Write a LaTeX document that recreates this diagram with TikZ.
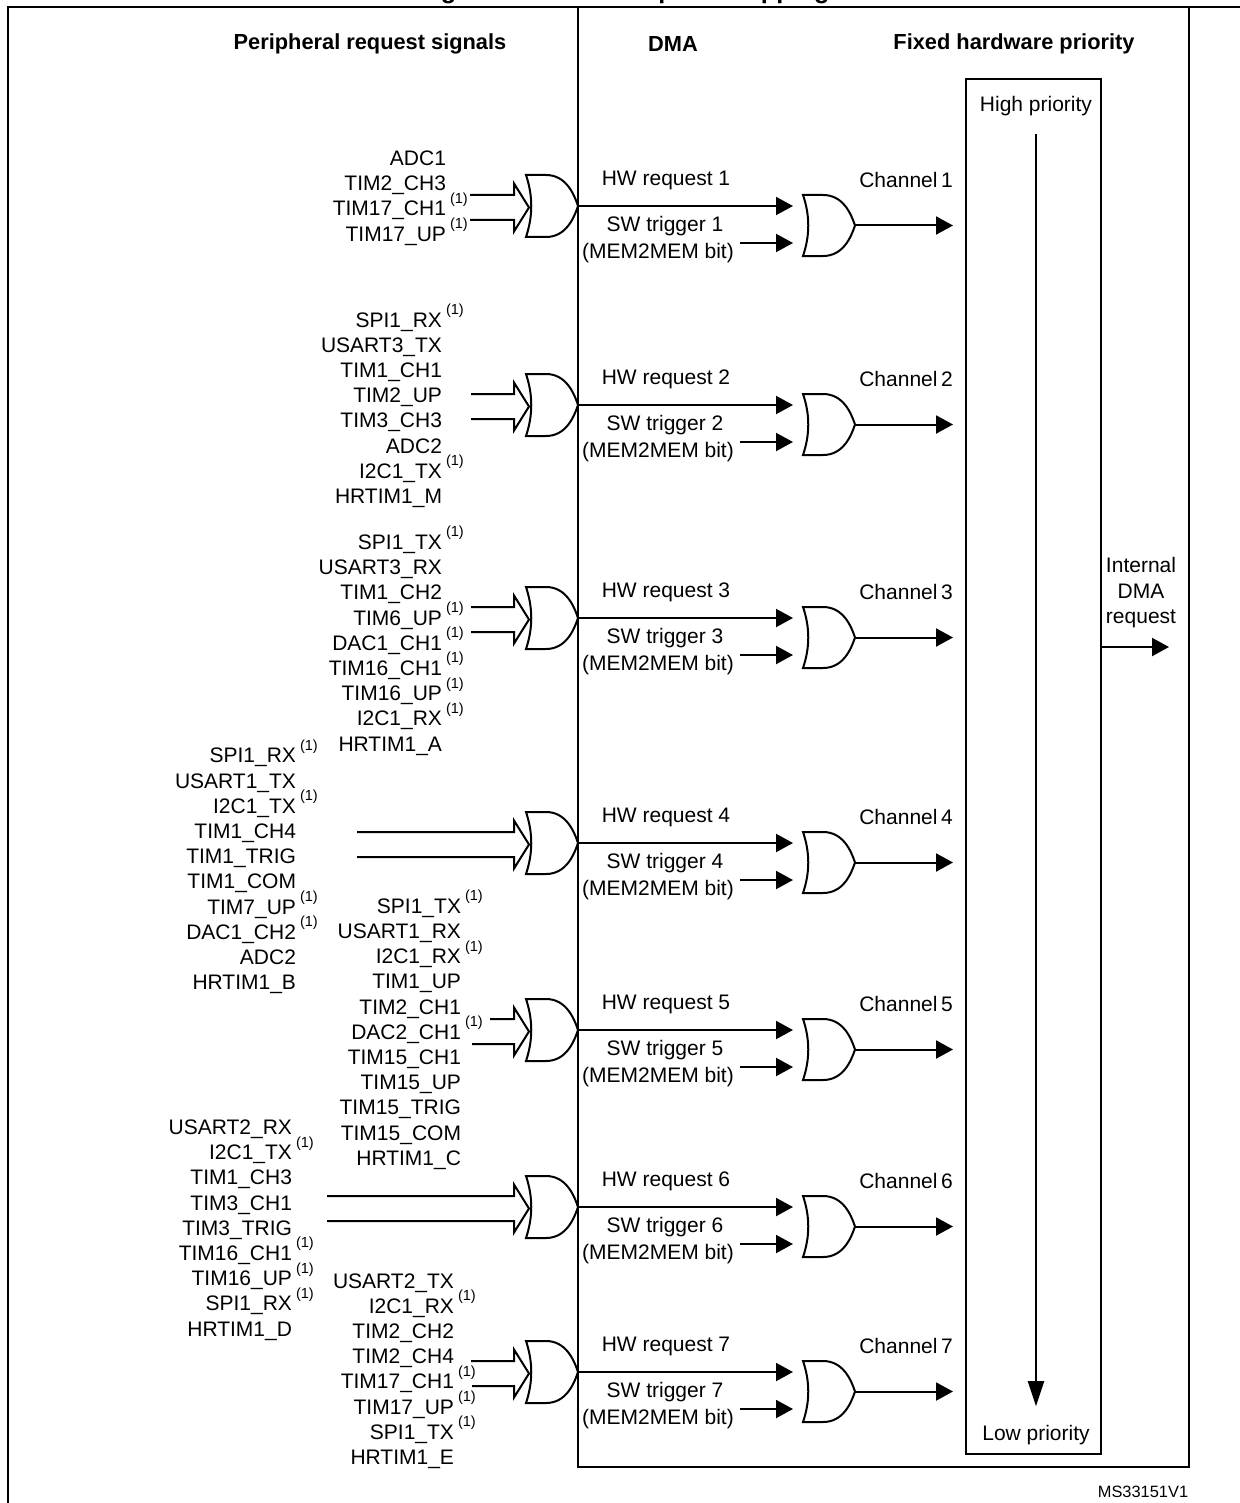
\documentclass[tikz,border=0pt]{standalone}
\usepackage{fontspec}
\setmainfont{Liberation Sans}
\usetikzlibrary{arrows.meta, positioning, calc}

\newcommand\fnone{\rlap{\hspace{2pt}\smash{\raisebox{6.3pt}{\fontsize{7.3}{8}\selectfont(1)}}}}

\begin{document}
\begin{tikzpicture}[x=0.5pt, y=-0.5pt, line width=1pt,
    every node/.style={font=\fontsize{10.5}{12.6}\selectfont, inner sep=0pt},
    sig/.style={anchor=east, align=right},
    head/.style={font=\bfseries\fontsize{10.9}{13}\selectfont},
    req/.style={-{Triangle[length=8.5pt,width=9pt]}},
    prio/.style={-{Triangle[length=12.5pt,width=8pt]}}]

            \useasboundingbox (0,0) rectangle (1240,1503);

            \begin{scope}
                \clip (0,0) rectangle (1240,1503);
                \node[font=\bfseries\fontsize{12.65}{15}\selectfont, anchor=base] (title) at (624,-1.5) {Figure 24. DMA1 request mapping};
            \end{scope}

            \draw[line width=1.4pt] (8,1503) -- (8,7) -- (1240,7);
            \draw (578,7) rectangle (1189,1467);
            \draw (966,79) rectangle (1101,1454);

            \node[head] (hpr) at (370,44) {Peripheral request signals};
            \node[head] (hdma) at (673,44) {DMA};
            \node[head] (hfix) at (1014,44) {Fixed hardware priority};

            \node (hip) at (1036,106) {High priority};
            \node (lop) at (1036,1435) {Low priority};
            \draw[prio, shorten <=8.5pt, shorten >=9pt] (hip.south) -- (lop.north);

            \node[align=center, font=\fontsize{10.5}{12.75}\selectfont] (idr) at (1141,593) {Internal\\DMA\\request};
            \coordinate (idrs) at (1101,647);
            \coordinate (idre) at (1169,647);
            \draw[req] (idrs) -- (idre);

            \node[font=\fontsize{8.2}{10}\selectfont] (ms) at (1143,1492) {MS33151V1};

            %%%%%%%%%%%%%%%%%%%%%%%%%%%%%%%%%%%%%%%%%%%%%%%%%%%%%%%%%%%%%
            \node[sig] (sig1) at (447,198) {ADC1\\TIM2\_CH3\\TIM17\_CH1\fnone\\TIM17\_UP\fnone};
            \node[sig] (sig2) at (443,410) {SPI1\_RX\fnone\\USART3\_TX\\TIM1\_CH1\\TIM2\_UP\\TIM3\_CH3\\ADC2\\I2C1\_TX\fnone\\HRTIM1\_M};
            \node[sig] (sig3) at (443,645) {SPI1\_TX\fnone\\USART3\_RX\\TIM1\_CH2\\TIM6\_UP\fnone\\DAC1\_CH1\fnone\\TIM16\_CH1\fnone\\TIM16\_UP\fnone\\I2C1\_RX\fnone\\HRTIM1\_A};
            \node[sig] (sig4) at (297,871) {SPI1\_RX\fnone\\USART1\_TX\\I2C1\_TX\fnone\\TIM1\_CH4\\TIM1\_TRIG\\TIM1\_COM\\TIM7\_UP\fnone\\DAC1\_CH2\fnone\\ADC2\\HRTIM1\_B};
            \node[sig] (sig5) at (462,1034) {SPI1\_TX\fnone\\USART1\_RX\\I2C1\_RX\fnone\\TIM1\_UP\\TIM2\_CH1\\DAC2\_CH1\fnone\\TIM15\_CH1\\TIM15\_UP\\TIM15\_TRIG\\TIM15\_COM\\HRTIM1\_C};
            \node[sig] (sig6) at (293,1230) {USART2\_RX\\I2C1\_TX\fnone\\TIM1\_CH3\\TIM3\_CH1\\TIM3\_TRIG\\TIM16\_CH1\fnone\\TIM16\_UP\fnone\\SPI1\_RX\fnone\\HRTIM1\_D};
            \node[sig] (sig7) at (455,1371) {USART2\_TX\\I2C1\_RX\fnone\\TIM2\_CH2\\TIM2\_CH4\\TIM17\_CH1\fnone\\TIM17\_UP\fnone\\SPI1\_TX\fnone\\HRTIM1\_E};

            %%%%%%%%%%%%%%%%%%%%%%%%%%%%%%%%%%%%%%%%%%%%%%%%%%%%%%%%%%%%%
            \foreach \c/\xa/\xb [count=\i] in {206/470/470, 405/471/471, 618/471/471, 843/357/357, 1030/490/472, 1207/327/327, 1372/471/472}
            {
                % request bus and first gate
                \draw (\xa,\c-11) -- (514,\c-11) -- (514,\c-22.5) -- (529,\c+1.5) -- (514,\c+25.5) -- (514,\c+14) -- (\xb,\c+14);
                \draw (526,\c-31) -- (546,\c-31) .. controls (566,\c-31) and (574,\c-12) .. (578,\c)
                      .. controls (574,\c+12) and (566,\c+31) .. (546,\c+31) -- (526,\c+31)
                      .. controls (533,\c+10) and (533,\c-10) .. (526,\c-31) -- cycle;

                % second gate
                \draw (803,\c-11) -- (823,\c-11) .. controls (843,\c-11) and (851,\c+7.5) .. (855,\c+19.5)
                      .. controls (851,\c+31.5) and (843,\c+50) .. (823,\c+50) -- (803,\c+50)
                      .. controls (810,\c+29.5) and (810,\c+9.5) .. (803,\c-11) -- cycle;

                \coordinate (gaout\i) at (578,\c);
                \coordinate (hwin\i) at (793,\c);
                \coordinate (swst\i) at (740,\c+37);
                \coordinate (swin\i) at (793,\c+37);
                \coordinate (gbout\i) at (855,\c+19.5);
                \coordinate (chout\i) at (953,\c+19.5);

                \draw[req] (gaout\i) -- (hwin\i);
                \draw[req] (swst\i) -- (swin\i);
                \draw[req] (gbout\i) -- (chout\i);

                \node (hw\i) at (666,\c-26) {HW request \i};
                \node (sw\i) at (665,\c+20) {SW trigger \i};
                \node (mm\i) at (658,\c+47) {(MEM2MEM bit)};
                \node (chl\i) at (906,\c-26) {Channel\,\i};
            }

        \end{tikzpicture}
\end{document}
